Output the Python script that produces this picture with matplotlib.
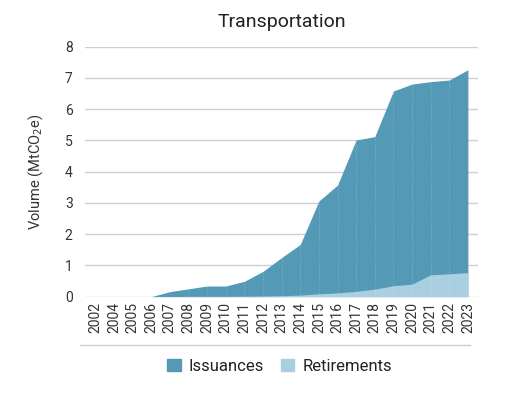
import numpy as np
import matplotlib.pyplot as plt
from matplotlib.lines import Line2D
from matplotlib.patches import Patch

plt.rcParams['font.family'] = ['Roboto', 'DejaVu Sans']

# Data (MtCO2e)
years = ['2002', '2004', '2005', '2006', '2007', '2008', '2009', '2010', '2011',
         '2012', '2013', '2014', '2015', '2016', '2017', '2018', '2019', '2020',
         '2021', '2022', '2023']
issuances = [0, 0, 0, 0, 0.16, 0.25, 0.34, 0.34, 0.49, 0.81, 1.25, 1.67, 3.06,
             3.57, 5.01, 5.12, 6.58, 6.80, 6.88, 6.93, 7.26]
retirements = [0, 0, 0, 0, 0.005, 0.01, 0.01, 0.01, 0.015, 0.02, 0.03, 0.05, 0.09,
               0.12, 0.17, 0.24, 0.35, 0.40, 0.70, 0.73, 0.77]

c_iss = '#5499b6'
c_ret = '#a9cfe0'

fig = plt.figure(figsize=(5.22, 3.95), dpi=100)
ax = fig.add_axes([0.163, 0.249, 0.753, 0.633])

x = np.arange(len(years))
ax.fill_between(x, 0, issuances, color=c_iss, linewidth=0, zorder=2)
ax.fill_between(x, 0, retirements, color=c_ret, linewidth=0, zorder=3)

# faint dotted category lines across the areas
for xi in x:
    ax.axvline(xi, color='white', linestyle=(0, (1, 2)), linewidth=0.6, alpha=0.35, zorder=4)

ax.set_ylim(0, 8)
ax.set_xlim(-0.55, 20.55)
ax.set_yticks(range(0, 9))
ax.yaxis.grid(True, color='#cfcfcf', linewidth=1, zorder=1)
ax.set_axisbelow(True)
ax.set_xticks(x)
ax.set_xticklabels(years, rotation=90, fontsize=10, color='#333333')
ax.tick_params(axis='y', labelsize=10, labelcolor='#333333', length=0, pad=9)
ax.tick_params(axis='x', length=0, pad=4)
for s in ax.spines.values():
    s.set_visible(False)

ax.set_ylabel('Volume (MtCO$_2$e)', fontsize=10.5, color='#333333', labelpad=14)
ax.set_title('Transportation', fontsize=14, color='#222222', pad=14)

fig.add_artist(Line2D([0.153, 0.900], [0.127, 0.127], color='#cccccc', linewidth=1,
                      transform=fig.transFigure))

handles = [Patch(color=c_iss, label='Issuances'), Patch(color=c_ret, label='Retirements')]
fig.legend(handles=handles, loc='center', bbox_to_anchor=(0.536, 0.073), ncol=2,
           frameon=False, fontsize=12, handlelength=0.8, handleheight=0.8,
           handletextpad=0.5, columnspacing=1.0, labelcolor='#222222')

fig.savefig('out.png', dpi=100)
